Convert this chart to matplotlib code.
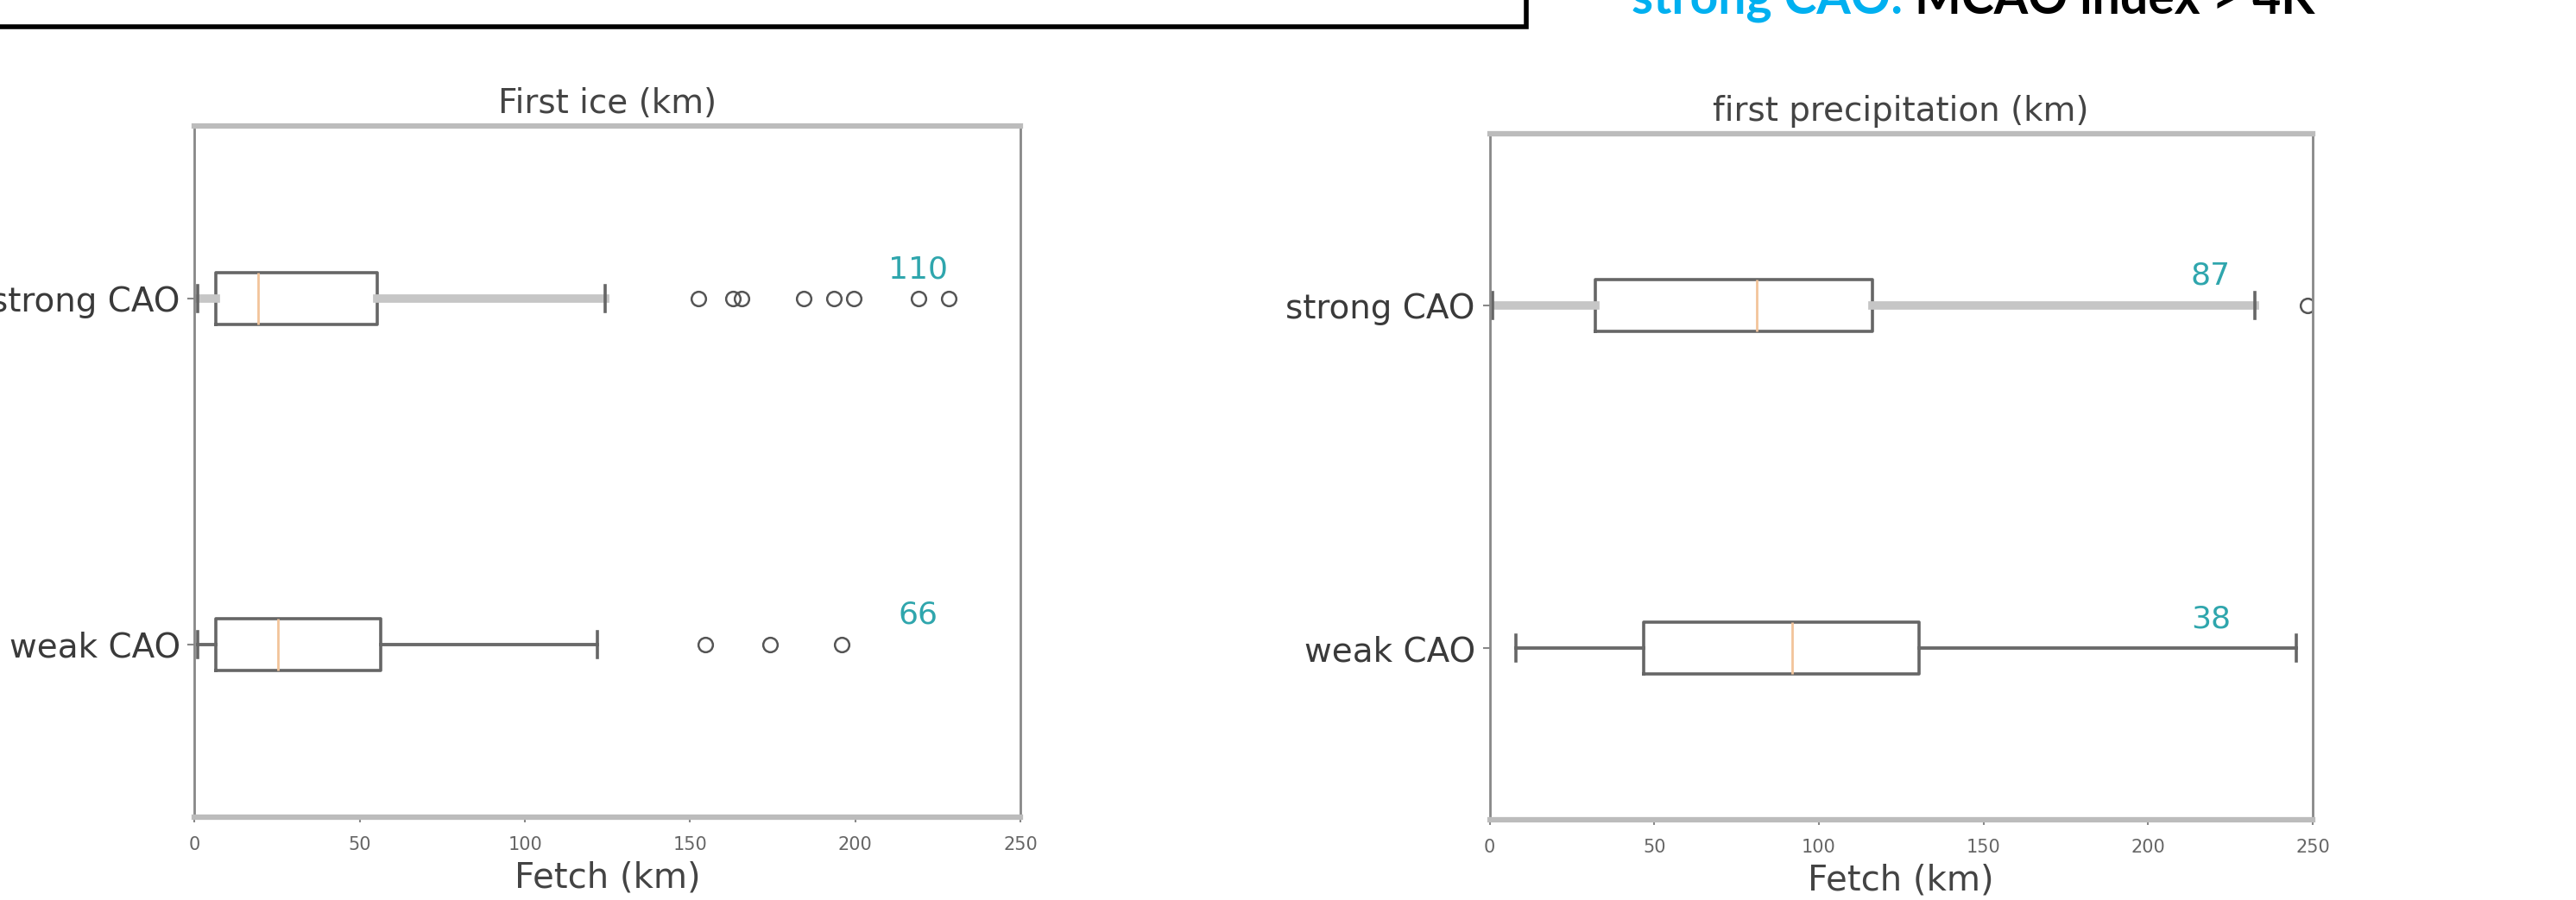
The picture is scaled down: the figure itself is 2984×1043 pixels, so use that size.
import matplotlib
matplotlib.use("Agg")
import matplotlib.pyplot as plt
from matplotlib.patches import Rectangle

# ── Data ──────────────────────────────────────────────────────────────────────
groups = ["weak CAO", "strong CAO"]

# First ice (km)
ice_whislo = [0.8, 0.8]
ice_q1     = [6.3, 6.3]
ice_med    = [25.3, 19.2]
ice_q3     = [56.3, 55.3]
ice_whishi = [122.0, 124.2]
ice_fliers = [
    [154.7, 174.2, 195.9],
    [152.5, 163.0, 165.5, 184.5, 193.5, 199.5, 219.2, 228.3],
]
ice_counts = [66, 110]

# First precipitation (km)
pr_whislo = [8.0, 0.8]
pr_q1     = [46.8, 32.1]
pr_med    = [91.9, 81.1]
pr_q3     = [130.5, 116.2]
pr_whishi = [245.0, 232.4]
pr_fliers = [[], [248.3]]
pr_counts = [38, 87]

xticks = [0, 50, 100, 150, 200, 250]

W, H, DPI = 2984, 1043, 100
fig = plt.figure(figsize=(W / DPI, H / DPI), dpi=DPI)
fig.patch.set_facecolor("white")

BOX_C = "#666666"
COUNT_C = "#2fa6ad"


def make_stats(whislo, q1, med, q3, whishi, fliers):
    return [dict(whislo=whislo[i], q1=q1[i], med=med[i], q3=q3[i],
                 whishi=whishi[i], fliers=fliers[i], label=groups[i])
            for i in range(len(groups))]


def draw_panel(rect, title, stats, counts):
    ax = fig.add_axes(rect)
    res = ax.bxp(stats, vert=False, widths=0.15, showfliers=True,
                 boxprops=dict(color=BOX_C, linewidth=2.6),
                 medianprops=dict(color="#f2c49a", linewidth=2.0),
                 capprops=dict(color=BOX_C, linewidth=2.6),
                 flierprops=dict(marker="o", markerfacecolor="none",
                                 markeredgecolor="#555555", markersize=12,
                                 markeredgewidth=1.8))
    # whiskers: strong row looks light and heavy, weak row dark and thin
    for i, w in enumerate(res["whiskers"]):
        if i // 2 == 1:
            w.set_color("#c6c6c6")
            w.set_linewidth(7)
        else:
            w.set_color("#6a6a6a")
            w.set_linewidth(2.8)

    ax.set_xlim(0, 250)
    ax.set_ylim(0.5, 2.5)
    ax.set_xticks(xticks)
    ax.set_xticklabels([str(t) for t in xticks])
    ax.tick_params(axis="x", labelsize=15, colors="#888888",
                   labelcolor="#666666", length=4, width=1.5, pad=12)
    ax.tick_params(axis="y", labelsize=28, colors="#888888",
                   labelcolor="#3a3a3a", length=6, width=1.5, pad=6)
    ax.set_title(title, fontsize=28, color="#444444", pad=11)
    ax.set_xlabel("Fetch (km)", fontsize=29, color="#444444", labelpad=6)

    for side in ("top", "bottom"):
        ax.spines[side].set_color("#bcbcbc")
        ax.spines[side].set_linewidth(4.5)
    for side in ("left", "right"):
        ax.spines[side].set_color("#888888")
        ax.spines[side].set_linewidth(2)

    for pos, n in zip([1, 2], counts):
        ax.text(219, pos + 0.085, str(n), color=COUNT_C, fontsize=26,
                ha="center", va="center")
    return ax


draw_panel([225.5 / W, 1 - 947 / H, 956.5 / W, 801 / H], "First ice (km)",
           make_stats(ice_whislo, ice_q1, ice_med, ice_q3, ice_whishi, ice_fliers),
           ice_counts)
draw_panel([1725.5 / W, 1 - 950 / H, 953.5 / W, 795 / H],
           "first precipitation (km)",
           make_stats(pr_whislo, pr_q1, pr_med, pr_q3, pr_whishi, pr_fliers),
           pr_counts)

# ── Slide decorations at the top (cut off in the screenshot) ──────────────────
fig.patches.append(Rectangle((-20 / W, 1 - 31 / H), 1788 / W, 80 / H,
                             transform=fig.transFigure, facecolor="white",
                             edgecolor="black", linewidth=4, clip_on=False))

t1 = fig.text(1890 / W, 1 - 16 / H, "strong CAO:", color="#00b0f0",
              fontsize=41, fontweight="bold", family="Lato",
              ha="left", va="baseline")
fig.canvas.draw()
bb = t1.get_window_extent()
fig.text((bb.x1 + 14) / W, 1 - 16 / H, "MCAO index > 4K", color="black",
         fontsize=41, fontweight="bold", family="Lato",
         ha="left", va="baseline")

fig.savefig("out.png", dpi=DPI)
plt.close("all")
